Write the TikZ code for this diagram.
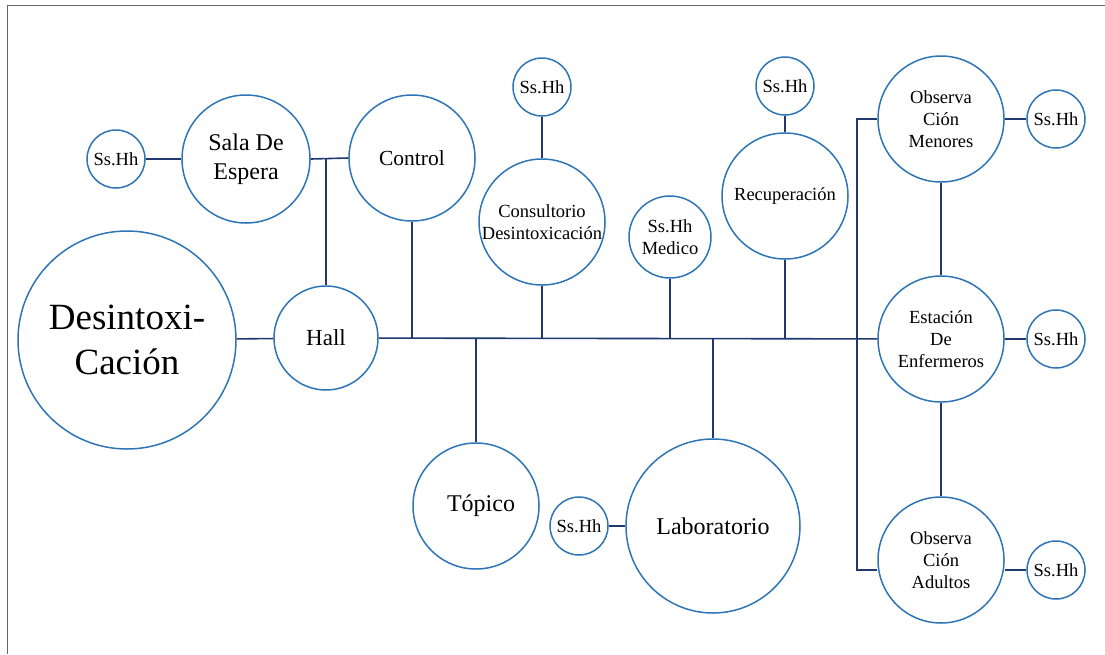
\documentclass[tikz,border=0pt]{standalone}
\usepackage{fontspec}
\setmainfont{Liberation Serif}
\usetikzlibrary{positioning}
\definecolor{roomblue}{RGB}{46,117,182}
\definecolor{linknavy}{RGB}{31,56,110}
\tikzset{
	room/.style={circle,draw=roomblue,line width=1.5pt,inner sep=0pt,align=center,minimum size=126pt,font=\fontsize{18.5}{22}\selectfont},
	ss/.style={room,minimum size=58pt},
	link/.style={linknavy,line width=1.6pt}
}
\begin{document}
\begin{tikzpicture}[x=1pt,y=-1pt]
			\useasboundingbox (0,0) rectangle (1105,654);
			\draw[gray!80!black,line width=1pt] (7,654) -- (7,5) -- (1105,5);

			\node(desintox) [room,minimum size=218pt,font=\fontsize{37}{45}\selectfont] at (127,340) {Desintoxi-\\Cación};
			\node(hall) [room,minimum size=104pt,font=\fontsize{23}{27}\selectfont] at (326,338) {Hall};
			\node(sala) [room,minimum size=128pt,font=\fontsize{24}{29}\selectfont] at (246,159) {Sala De\\Espera};
			\node(ss1) [ss,left of=sala,node distance=130pt] {Ss.Hh};
			\node(control) [room,font=\fontsize{21.5}{26}\selectfont] at (412,158) {Control};
			\node(consult) [room] at (542,222) {Consultorio\\Desintoxicación};
			\node(ss2) [ss,above of=consult,node distance=135pt] {Ss.Hh};
			\node(medico) [room,minimum size=82pt] at (670,237) {Ss.Hh\\Medico};
			\node(recup) [room] at (785,196) {Recuperación};
			\node(ss3) [ss,above of=recup,node distance=110pt] {Ss.Hh};
			\node(topico) [room,font=\fontsize{24}{29}\selectfont] at (476,506) {\hspace{10pt}Tópico};
			\node(lab) [room,minimum size=174pt,font=\fontsize{24}{29}\selectfont] at (713,526) {Laboratorio};
			\node(ss4) [ss,left of=lab,node distance=134pt] {Ss.Hh};
			\node(menores) [room] at (941,119) {Observa\\Ción\\Menores};
			\node(estacion) [room] at (941,339) {Estación\\De\\Enfermeros};
			\node(adultos) [room] at (941,560) {Observa\\Ción\\Adultos};
			\node(ss5) [ss,right of=menores,node distance=115pt] {Ss.Hh};
			\node(ss6) [ss,right of=estacion,node distance=115pt] {Ss.Hh};
			\node(ss7) [ss] at (1056,570) {Ss.Hh};

			\coordinate(j1) at (hall |- sala);
			\coordinate(bus) at (857,339);

			\draw[link] (ss1) -- (sala);
			\draw[link] (sala.east) -- (control.west);
			\draw[link] (j1) -- (hall);
			\draw[link] (desintox) -- (hall);
			\draw[link] (hall) -- (estacion);
			\draw[link] (control) -- (control |- hall);
			\draw[link] (ss2) -- (consult);
			\draw[link] (consult) -- (consult |- hall);
			\draw[link] (medico) -- (medico |- hall);
			\draw[link] (ss3) -- (recup);
			\draw[link] (recup) -- (recup |- hall);
			\draw[link] (topico) -- (topico |- hall);
			\draw[link] (lab) -- (lab |- hall);
			\draw[link] (ss4) -- (lab);
			\draw[link] (menores) -| (bus) |- ([yshift=-10pt]adultos.west);
			\draw[link] (menores) -- (estacion);
			\draw[link] (estacion) -- (adultos);
			\draw[link] (menores) -- (ss5);
			\draw[link] (estacion) -- (ss6);
			\draw[link] (ss7) -- (ss7 -| adultos.east);
		\end{tikzpicture}
\end{document}
